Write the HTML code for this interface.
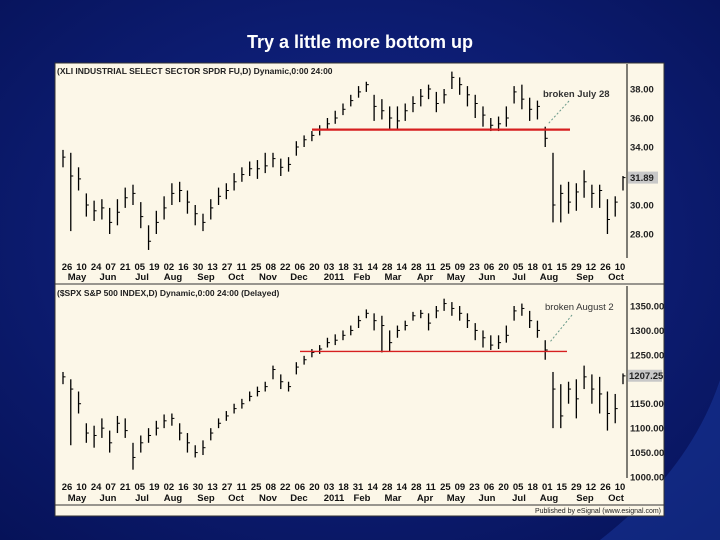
<!DOCTYPE html>
<html><head><meta charset="utf-8">
<style>
html,body{margin:0;padding:0;width:720px;height:540px;overflow:hidden;background:#0b1a70;}
svg{display:block;font-family:"Liberation Sans",sans-serif;}
</style></head>
<body>
<svg id="s" width="720" height="540" viewBox="0 0 720 540">
<defs>
<radialGradient id="bg" cx="0.5" cy="0.45" r="0.75">
<stop offset="0" stop-color="#14288e"/><stop offset="1" stop-color="#061258"/>
</radialGradient>
</defs>
<rect width="720" height="540" fill="url(#bg)"/>
<path d="M600 540 Q690 470 720 380 L720 540 Z" fill="#1a3aa0" opacity="0.5"/>
<text x="360" y="48" text-anchor="middle" fill="#fff" font-size="18" font-weight="bold">Try a little more bottom up</text>
<rect x="55" y="63" width="609" height="453" fill="#fcf7e8" stroke="#333" stroke-width="1"/>
<g id="g"></g>
</svg>
<script>
// XLI weekly bars (close, high, low)
const xliClose=[33.3,32.0,31.8,30.0,29.6,29.8,28.8,29.5,30.5,30.8,29.2,27.5,28.8,29.8,30.8,31.0,30.2,29.4,28.8,29.8,30.6,31.0,31.6,32.1,32.5,32.5,32.7,33.2,32.6,32.8,34.0,34.5,34.8,35.2,35.6,36.0,36.6,37.2,37.8,38.3,36.8,36.5,36.0,35.8,36.5,37.0,37.5,38.0,37.0,37.6,38.8,38.3,37.6,37.0,36.2,35.5,35.6,36.0,37.8,37.3,36.6,36.8,34.6,30.0,30.8,30.2,30.9,31.6,30.8,31.0,29.0,30.2,31.89];
const xliHigh=[33.8,33.6,32.6,30.8,30.3,30.4,29.8,30.4,31.2,31.4,30.2,28.6,29.6,30.6,31.5,31.6,31.0,30.0,29.4,30.4,31.2,31.5,32.2,32.6,33.0,33.1,33.6,33.6,33.2,33.3,34.4,34.8,35.1,35.5,36.0,36.5,37.0,37.6,38.2,38.5,37.6,37.3,36.8,36.8,37.0,37.5,38.0,38.3,37.8,38.0,39.2,38.8,38.2,37.6,36.8,36.0,36.1,36.8,38.2,38.3,37.4,37.2,35.4,33.6,31.4,31.6,31.5,32.4,31.4,31.4,30.4,30.6,32.0];
const xliLow=[32.6,28.2,31.0,29.2,28.9,29.0,28.0,28.6,29.8,30.0,28.4,26.9,28.0,29.0,30.0,30.2,29.4,28.6,28.2,29.0,30.0,30.4,31.0,31.6,32.0,31.8,32.2,32.6,32.0,32.3,33.4,34.0,34.4,34.8,35.2,35.6,36.2,36.8,37.4,37.8,35.8,35.9,35.2,35.2,35.8,36.4,36.8,37.3,36.4,37.0,38.0,37.6,36.8,36.0,35.4,35.1,35.1,35.4,37.0,36.6,35.8,35.9,34.0,28.8,28.8,29.4,29.6,30.5,29.8,29.8,28.0,29.2,31.0];
// SPX weekly bars
const spxClose=[1205,1180,1150,1090,1085,1100,1070,1110,1095,1040,1070,1085,1100,1115,1120,1090,1070,1050,1060,1090,1110,1125,1140,1150,1165,1175,1185,1220,1195,1185,1225,1240,1255,1262,1275,1280,1290,1300,1320,1335,1320,1310,1275,1300,1310,1330,1335,1315,1340,1355,1345,1335,1320,1300,1285,1270,1275,1290,1340,1345,1320,1300,1260,1180,1125,1180,1160,1205,1180,1170,1130,1140,1207];
const spxHigh=[1215,1200,1175,1110,1105,1120,1095,1125,1120,1070,1085,1100,1115,1128,1130,1110,1090,1065,1075,1100,1120,1135,1150,1160,1175,1185,1195,1228,1210,1195,1235,1248,1262,1270,1285,1292,1300,1310,1330,1343,1335,1330,1300,1310,1320,1338,1342,1335,1350,1365,1358,1350,1335,1315,1300,1290,1290,1310,1350,1355,1340,1320,1280,1215,1190,1195,1200,1228,1210,1205,1175,1170,1212];
const spxLow=[1190,1065,1130,1070,1060,1080,1050,1090,1080,1015,1050,1070,1085,1100,1105,1075,1050,1040,1045,1075,1100,1115,1130,1140,1155,1165,1175,1200,1180,1175,1210,1230,1245,1252,1265,1270,1280,1290,1305,1325,1300,1255,1258,1285,1300,1320,1325,1300,1325,1340,1330,1320,1305,1280,1265,1260,1262,1275,1320,1330,1305,1285,1240,1100,1100,1150,1120,1180,1150,1130,1095,1110,1190];
const dayLabels=["26","10","24","07","21","05","19","02","16","30","13","27","11","25","08","22","06","20","03","18","31","14","28","14","28","11","25","09","23","06","20","05","18","01","15","29","12","26","10"];
const monthLabels=["May","Jun","Jul","Aug","Sep","Oct","Nov","Dec","2011","Feb","Mar","Apr","May","Jun","Jul","Aug","Sep","Oct"];
const monthPos=[77,108,142,173,206,236,268,299,334,362,393,425,456,487,519,549,585,616];
const xliTicks=[38,36,34,30,28];
const spxTicks=[1350,1300,1250,1150,1100,1050,1000];

const NS="http://www.w3.org/2000/svg";
const G=document.getElementById('g');
function mk(tag,attrs,parent){const e=document.createElementNS(NS,tag);for(const k in attrs)e.setAttribute(k,attrs[k]);(parent||G).appendChild(e);return e;}
function xOf(i,n){return 63+i*(560/(n-1));}
function yX(v){return 89+(38-v)*14.5;}
function yS(v){return 306+(1350-v)*0.4886;}

function drawBars(close,high,low,yf,name){
  const grp=mk('g',{});
  
  
  for(let i=0;i<close.length;i++){
    const x=xOf(i,close.length);
    const b=mk('line',{x1:x,x2:x,y1:yf(high[i]),y2:yf(low[i]),stroke:'#000','stroke-width':1.3},grp);
    
    
    const t=mk('line',{x1:x,x2:x+2.5,y1:yf(close[i]),y2:yf(close[i]),stroke:'#000','stroke-width':1},grp);
    
    
  }
}
function drawDates(y1,y2,name){
  const grp=mk('g',{'font-size':'9.5','font-weight':'bold',fill:'#111'});
  
  
  const n=dayLabels.length;
  for(let k=0;k<n;k++){
    const t=mk('text',{x:67+k*(553/(n-1)),y:y1,'text-anchor':'middle'},grp);t.textContent=dayLabels[k];
    
    
  }
  for(let k=0;k<monthLabels.length;k++){
    const t=mk('text',{x:monthPos[k],y:y2,'text-anchor':'middle'},grp);t.textContent=monthLabels[k];
    
    
  }
}
function drawAxis(ticks,yf,fmt,name){
  const grp=mk('g',{'font-size':'9.5','font-weight':'bold',fill:'#222'});
  
  
  for(const v of ticks){
    const t=mk('text',{x:630,y:yf(v)+3.5},grp);t.textContent=fmt(v);
    
    
  }
}
// frames
mk('line',{x1:627,x2:627,y1:64,y2:258,stroke:'#000'});
mk('line',{x1:627,x2:627,y1:286,y2:478,stroke:'#000'});
mk('line',{x1:55,x2:664,y1:284,y2:284,stroke:'#333'});
mk('line',{x1:55,x2:664,y1:505,y2:505,stroke:'#333'});
// top chart
let e=mk('text',{x:57,y:74,'font-size':'8.5','font-weight':'bold',fill:'#222'});e.textContent='(XLI   INDUSTRIAL SELECT SECTOR SPDR FU,D) Dynamic,0:00 24:00';

drawBars(xliClose,xliHigh,xliLow,yX,'xli-price-series');
e=mk('line',{x1:312,x2:570,y1:yX(35.2),y2:yX(35.2),stroke:'#d61f1f','stroke-width':2.2});

drawAxis(xliTicks,yX,v=>v.toFixed(2),'xli-y-axis');
e=mk('rect',{x:628,y:yX(31.89)-6,width:30,height:12,fill:'#c8c8c8'});

e=mk('text',{x:630,y:yX(31.89)+3.5,'font-size':'9.5','font-weight':'bold',fill:'#222'});e.textContent='31.89';

e=mk('text',{x:543,y:97,'font-size':'9.5','font-weight':'bold',fill:'#333'});e.textContent='broken July 28';

e=mk('line',{x1:569,x2:548,y1:101,y2:124,stroke:'#6a9a8a','stroke-dasharray':'2,2'});

drawDates(270,280,'xli-x-axis');
// bottom chart
e=mk('text',{x:57,y:296,'font-size':'8.5','font-weight':'bold',fill:'#222'});e.textContent='($SPX   S&P 500 INDEX,D) Dynamic,0:00 24:00 (Delayed)';

drawBars(spxClose,spxHigh,spxLow,yS,'spx-price-series');
e=mk('line',{x1:300,x2:567,y1:yS(1257),y2:yS(1257),stroke:'#d61f1f','stroke-width':1.3});

drawAxis(spxTicks,yS,v=>v.toFixed(2),'spx-y-axis');
e=mk('rect',{x:628,y:yS(1207.25)-6,width:34,height:12,fill:'#c8c8c8'});

e=mk('text',{x:629,y:yS(1207.25)+3.5,'font-size':'9.5','font-weight':'bold',fill:'#222'});e.textContent='1207.25';

e=mk('text',{x:545,y:310,'font-size':'9.5',fill:'#333'});e.textContent='broken August 2';

e=mk('line',{x1:572,x2:550,y1:315,y2:342,stroke:'#6a9a8a','stroke-dasharray':'2,2'});

drawDates(490,501,'spx-x-axis');
e=mk('text',{x:661,y:513,'font-size':'7',fill:'#222','text-anchor':'end'});e.textContent='Published by eSignal (www.esignal.com)';

</script>
</body></html>
